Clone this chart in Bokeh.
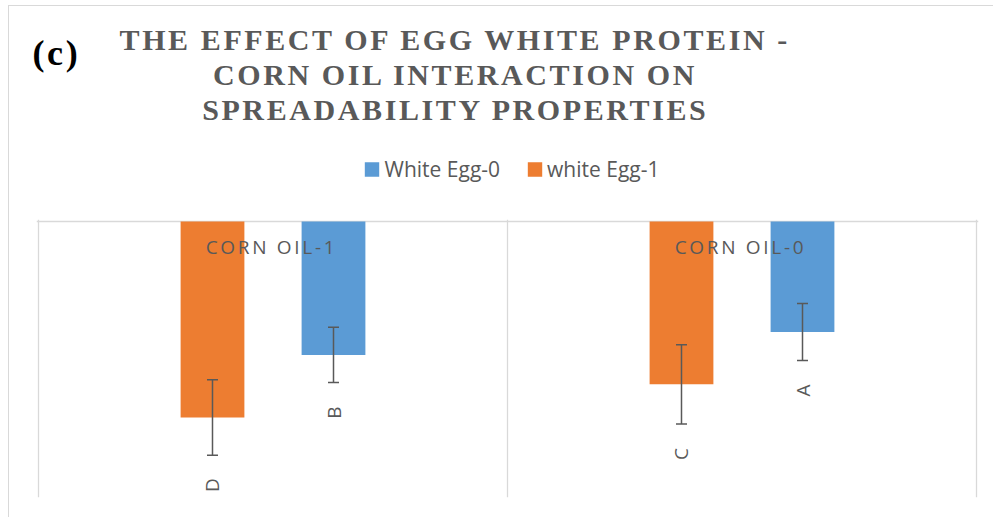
import math
from bokeh.plotting import figure
from bokeh.models import ColumnDataSource, Range1d, Grid, FixedTicker, Whisker, TeeHead, Legend
from bokeh.layouts import column
from bokeh.core.properties import value
from bokeh.embed import file_html
from bokeh.resources import INLINE

# ---------------- data ----------------
categories = ["CORN OIL-1", "CORN OIL-0"]
series_names = ["White Egg-0", "white Egg-1"]
egg0_values = [1.45, 1.20]
egg1_values = [2.13, 1.77]
egg0_errors = [0.30, 0.31]
egg1_errors = [0.41, 0.43]
egg0_letters = ["B", "A"]
egg1_letters = ["D", "C"]
title_lines = ["THE EFFECT OF EGG WHITE PROTEIN -",
               "CORN OIL INTERACTION ON",
               "SPREADABILITY PROPERTIES"]
panel_tag = "(c)"

# ---------------- style ----------------
BLUE = "#5B9BD5"
ORANGE = "#ED7D31"
GREY = "#595959"
GRID = "#D9D9D9"
W = 984
SANS = value("Open Sans")
SERIF = value("Liberation Serif")
TITLE_LS = 2.6     # letter spacing of the title (px)
CAT_LS = 2.7       # letter spacing of the category labels (px)

# ---------------- title block ----------------
TH = 135
t = figure(width=W, height=TH, x_range=Range1d(0, W), y_range=Range1d(TH, 0),
           x_axis_type=None, y_axis_type=None, toolbar_location=None,
           output_backend="svg", min_border=0, outline_line_color=None,
           frame_align=False, styles={"letter-spacing": f"{TITLE_LS}px"})
title_center = 445
t.text(x=[title_center - (len(s) - 1) * TITLE_LS / 2 for s in title_lines],
       y=[32.5 + 35 * i for i in range(len(title_lines))],
       text=title_lines, text_align="center", text_baseline="alphabetic",
       text_font=SERIF, text_font_style="bold", text_font_size="30px", text_color=GREY)
t.text(x=[23], y=[46], text=[panel_tag], text_align="left", text_baseline="alphabetic",
       text_font=SERIF, text_font_style="bold", text_font_size="36px", text_color="black")

# ---------------- chart data source ----------------
centers = [i + 0.5 for i in range(len(categories))]
OFF = 0.129
BW = 0.136
src = ColumnDataSource(dict(
    cat=categories,
    xc=centers,
    x0=[c + OFF for c in centers],
    x1=[c - OFF for c in centers],
    v0=egg0_values, v1=egg1_values,
    lo0=[v - e for v, e in zip(egg0_values, egg0_errors)],
    hi0=[v + e for v, e in zip(egg0_values, egg0_errors)],
    lo1=[v - e for v, e in zip(egg1_values, egg1_errors)],
    hi1=[v + e for v, e in zip(egg1_values, egg1_errors)],
    l0=egg0_letters, l1=egg1_letters,
))

# ---------------- legend block ----------------
lg = figure(width=W, height=56, x_range=Range1d(0, 2), y_range=Range1d(3, 0),
            x_axis_type=None, y_axis_type=None, toolbar_location=None,
            output_backend="svg", min_border=0, min_border_left=20, outline_line_color=None,
            frame_align=False)
r_blue = lg.vbar(x="x0", top="v0", width=BW, source=src, fill_color=BLUE, line_color=None,
                 visible=False)
r_orange = lg.vbar(x="x1", top="v1", width=BW, source=src, fill_color=ORANGE, line_color=None,
                   visible=False)
legend = Legend(items=[(series_names[0], [r_blue]), (series_names[1], [r_orange])],
                location="center", orientation="horizontal",
                glyph_width=18, glyph_height=18, label_standoff=4, spacing=25,
                padding=0, margin=0, border_line_color=None, background_fill_alpha=0,
                label_text_font="Open Sans", label_text_font_size="21px", label_text_color=GREY)
lg.add_layout(legend, "center")

# ---------------- chart ----------------
PX_X = 469.0   # px per category
PX_Y = 92.0    # px per value unit
padx = 2 / PX_X
pady = 2 / PX_Y
p = figure(width=W, height=320,
           x_range=Range1d(-padx, len(categories) + padx), y_range=Range1d(3.0, -pady),
           x_axis_type=None, y_axis_type=None, toolbar_location=None,
           output_backend="svg", min_border_left=27, min_border_right=15,
           min_border_top=22, min_border_bottom=20, outline_line_color=None,
           frame_align=False, styles={"letter-spacing": f"{CAT_LS}px"})
p.add_layout(Grid(dimension=0, ticker=FixedTicker(ticks=list(range(len(categories) + 1))),
                  grid_line_color=GRID, grid_line_width=1.3))
p.add_layout(Grid(dimension=1, ticker=FixedTicker(ticks=[0]),
                  grid_line_color=GRID, grid_line_width=1.3))

p.vbar(x="x1", top="v1", bottom=0, width=BW, source=src, fill_color=ORANGE, line_color=None)
p.vbar(x="x0", top="v0", bottom=0, width=BW, source=src, fill_color=BLUE, line_color=None)

for base, lo, hi in (("x1", "lo1", "hi1"), ("x0", "lo0", "hi0")):
    p.add_layout(Whisker(source=src, base=base, lower=lo, upper=hi, level="annotation",
                         line_color=GREY, line_width=1.5,
                         upper_head=TeeHead(size=11, line_color=GREY, line_width=1.5),
                         lower_head=TeeHead(size=11, line_color=GREY, line_width=1.5)))

for xcol, ycol, lcol in (("x1", "hi1", "l1"), ("x0", "hi0", "l0")):
    p.text(x=xcol, y=ycol, text=lcol, source=src, angle=math.pi / 2,
           text_align="center", text_baseline="middle", y_offset=30,
           text_font=SANS, text_font_size="19px", text_color=GREY)

p.text(x="xc", y=0, text="cat", source=src, text_align="center", text_baseline="alphabetic",
       x_offset=-15, y_offset=25, text_font=SANS, text_font_size="19px", text_color=GREY)

layout = column(t, lg, p, margin=(5, 0, 0, 8),
                styles={"border-top": "1px solid #D9D9D9",
                        "border-left": "1px solid #D9D9D9"})
open("out.html", "w").write(file_html(layout, INLINE))
